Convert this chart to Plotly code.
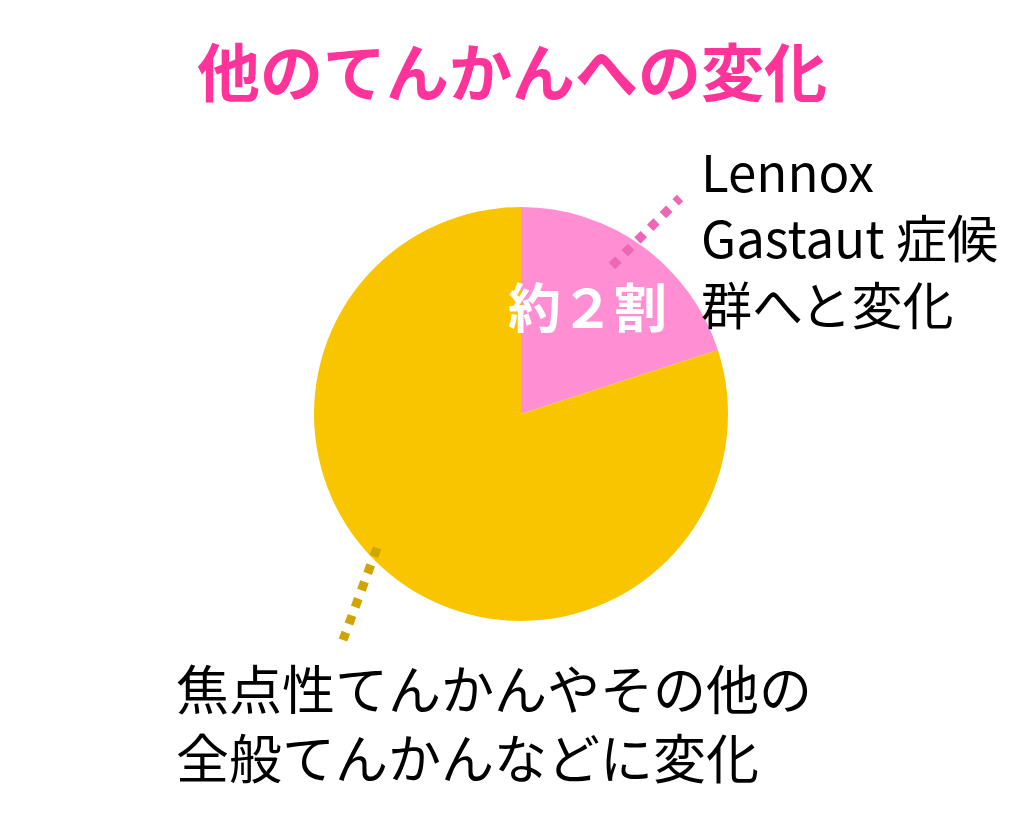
import plotly.graph_objects as go

labels = ["Lennox Gastaut 症候群へと変化", "焦点性てんかんやその他の全般てんかんなどに変化"]
values = [20, 80]
colors = ["#FF8ED3", "#F9C500"]

# the page body has an 8px margin, so the figure is a bit smaller than the window
OFF = 8
W, H = 1024 - 2 * OFF, 818 - 2 * OFF
FONT = "Noto Sans CJK JP"


def px(x, y):
    # window pixel position -> paper coordinates
    return (x - OFF) / W, 1 - (y - OFF) / H


fig = go.Figure()

x0, y0 = px(314, 621)
x1, y1 = px(728, 207)
fig.add_trace(
    go.Pie(
        labels=labels,
        values=values,
        marker=dict(colors=colors, line=dict(width=0)),
        sort=False,
        direction="clockwise",
        rotation=0,
        textinfo="none",
        hoverinfo="label+percent",
        showlegend=False,
        domain=dict(x=[x0, x1], y=[y0, y1]),
    )
)

# leader lines
for (sx, sy), (ex, ey), c in [
    ((612, 266), (680, 198), "#EE66B6"),
    ((377, 548), (343, 640), "#D0A500"),
]:
    a0, b0 = px(sx, sy)
    a1, b1 = px(ex, ey)
    fig.add_shape(
        type="line", xref="paper", yref="paper",
        x0=a0, y0=b0, x1=a1, y1=b1,
        line=dict(color=c, width=9, dash="dot"),
    )


def note(text, x, y, size, color="black", xanchor="left"):
    ax, ay = px(x, y)
    fig.add_annotation(
        x=ax, y=ay, xref="paper", yref="paper", showarrow=False,
        xanchor=xanchor, yanchor="middle", align="left", text=text,
        font=dict(family=FONT, size=size, color=color),
    )


note("<b>他のてんかんへの変化</b>", 512, 68, 63, "#FF3399", "center")
note("<b>約２割</b>", 587, 305, 53, "white", "center")
note("Lennox<br>Gastaut 症候<br>群へと変化", 699, 236, 51)
note("焦点性てんかんやその他の<br>全般てんかんなどに変化", 174, 721, 53)

fig.update_layout(
    width=W,
    height=H,
    margin=dict(l=0, r=0, t=0, b=0),
    paper_bgcolor="white",
    plot_bgcolor="white",
)

fig.write_html("out.html")
